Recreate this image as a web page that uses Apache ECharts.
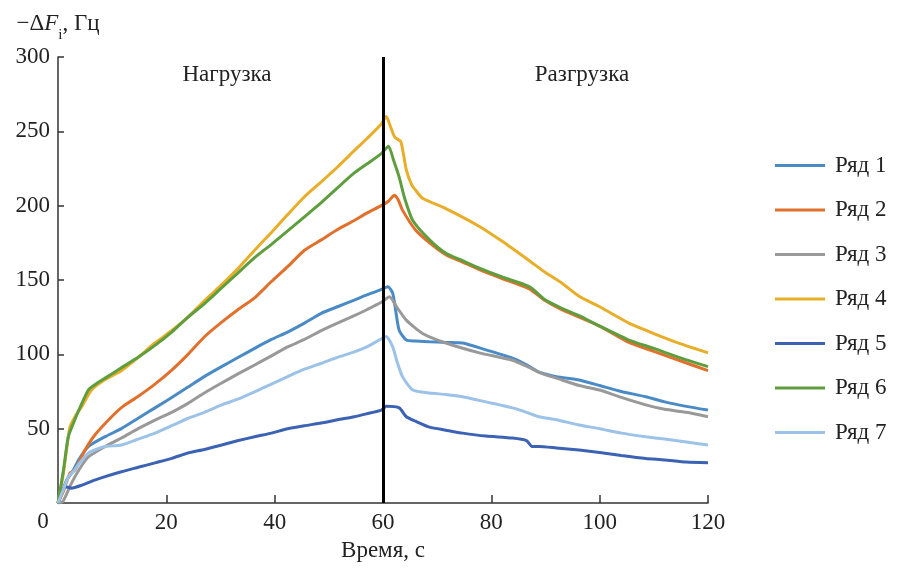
<!DOCTYPE html>
<html>
<head>
<meta charset="utf-8">
<script src="https://cdn.jsdelivr.net/npm/echarts@6/dist/echarts.min.js"></script>
<style>html,body{margin:0;padding:0;background:#fff}#c{width:897px;height:570px}</style>
</head>
<body>
<div id="c"></div>
<script>
const seriesNames = ['Ряд 1','Ряд 2','Ряд 3','Ряд 4','Ряд 5','Ряд 6','Ряд 7'];
const xTicks = [0,20,40,60,80,100,120];
const yTicks = [0,50,100,150,200,250,300];

const ryad1 = [[0,0],[0.8,8],[1.6,15.5],[2.5,20],[4,30],[5.6,38],[8.7,44.6],[11.7,50],[14.8,57],[17.9,64],[21,71],[24,78],[27,85],[30.2,91.7],[33.3,98],[36.3,104],[39.4,110],[42.4,115],[45.5,121],[48.6,127.6],[51.6,132],[54.7,136.5],[57,140],[59.3,143],[60.9,145.5],[61.8,141],[62.4,128],[63,116],[64.3,109.6],[66,109],[68.6,108.5],[71.6,108],[74.7,107.6],[79,103],[83.9,97.5],[86.5,93],[88.8,88],[92,85],[96.2,82.7],[100,79],[104,75],[108.5,71.5],[112,68],[116,65],[120,62.5]];
const ryad2 = [[0,0],[1,8],[2.2,20],[3.1,22],[5,35.6],[6.8,45.7],[9.9,58],[12,65],[14.7,71.5],[17.9,80],[21,89.4],[24,100],[27.1,112],[30,121],[33.2,130],[36.3,138],[39.4,149],[42.4,159],[45.5,170],[48.6,177],[51.6,184],[54.7,190],[57,195],[59.7,200],[61,203],[62.1,207],[62.8,204],[63.6,197],[66,183.6],[68.6,175],[71.6,167],[74.7,162],[77.8,157],[82,151],[87,144],[90,136],[93,130],[96.2,125],[100,119],[105.4,108],[110,102],[114.6,96],[120,89]];
const ryad3 = [[0,0],[0.9,1],[2.5,13.4],[4,23],[5.6,31],[8.7,38],[11.7,43.7],[14.8,50],[17.9,55.8],[21,61],[24,67],[27,74],[30.2,80.7],[33.3,87],[36.3,92.8],[39.4,99],[42.4,105],[45.5,110],[48.6,116],[51.6,121],[54.7,126],[57,130],[59.7,135],[61.2,138.7],[62.5,132],[64.3,123],[67.3,114],[71.6,107.6],[77.8,101],[83.9,96],[86.5,92],[89.4,87],[92,84],[96.2,79],[100,76],[104,71],[108.5,66],[112,63],[116,61],[120,58]];
const ryad4 = [[0,0],[1,20],[2.2,51],[3.3,59],[4.4,65],[6.2,76],[8.7,83],[11.7,89],[14.8,98],[17.9,107.6],[21,116],[24,125],[27,136],[30,146],[33.3,158],[36.3,170],[39.4,182],[42.4,194],[45.5,206],[48.6,216],[51.6,226],[54.7,237],[57,245],[59.7,255],[60.6,260],[61.5,252],[62.2,246],[63.3,243],[64.3,224],[65.3,214],[66.1,210],[67.3,205],[71.6,198],[77.8,186],[82,176],[87,163],[90,155],[93,148],[96.2,139],[100,132],[105.4,121],[110,114],[115,107],[120,101]];
const ryad5 = [[0,0],[0.6,6],[1.3,11],[2.5,10],[4.4,12],[6.5,15],[8.7,17.7],[11.7,21],[14.8,24],[17.9,27],[21,30],[24,33.6],[27,36],[30.2,39],[33.3,42],[36.3,44.6],[39.4,47],[42.4,50],[45.5,52],[48.6,53.8],[51.6,56],[54.7,58],[57,60],[59.7,62.5],[60.6,65],[63,64],[64.3,58],[66,55],[68.6,51],[71.6,49],[74.7,47],[79,45],[83.9,43.7],[86.5,42],[87.5,38],[88.8,38],[92,37],[96.2,35.6],[100,34],[104,32],[108.5,30],[112,29],[116,27.5],[120,27]];
const ryad6 = [[0,0],[1,22],[1.9,44.6],[3.1,56],[4.4,67],[5.6,76],[7,80],[8.7,84],[11.7,91],[14.8,98],[17.9,106],[21,115],[24,125],[27,134],[30,144],[33.3,155],[36.3,165],[39.4,174],[42.4,183],[45.5,192.5],[48.6,202],[51.6,212],[54.7,222],[57,228],[59.7,235],[61,240],[62,230],[63,219],[64,205],[65.5,190],[68.6,177],[71.6,168],[74.7,163],[77.8,158],[82,152],[87,145.5],[90,136.5],[93,131],[96.2,126],[100,119],[105.4,109.6],[110,104],[114.6,98],[120,91.7]];
const ryad7 = [[0,0],[1,9],[1.9,17.7],[2.8,21],[4,27],[5.6,33.6],[7,36],[8.7,38],[11.7,39],[14.8,43],[17.9,47],[21,52],[24,57],[27,61],[30.2,66],[33.3,70],[36.3,74.8],[39.4,80],[42.4,85],[45.5,90],[48.6,94],[51.6,98],[54.7,101.7],[57,105],[59.3,109.6],[60.6,112],[61.8,105],[62.6,95],[63.6,85],[65.5,76],[68.6,74],[71.6,73],[74.7,71.5],[79,68],[83.9,64],[86.5,61],[88.8,58],[92,56],[96.2,52.5],[100,50],[104,47],[108.5,44.6],[112,43],[116,41],[120,39]];
const boundary = 60;

const allData = [ryad1, ryad2, ryad3, ryad4, ryad5, ryad6, ryad7];
const colors = ['#4a8bc6','#e0702c','#999999','#e8ae2a','#3b62b3','#5f9e3e','#9cc2e8'];
const FONT = 'Liberation Serif';
const FS = 23;

const series = allData.map((d, i) => ({
  name: seriesNames[i],
  type: 'line',
  data: d,
  symbol: 'none',
  smooth: 0.2,
  lineStyle: { width: 3, color: colors[i] },
  itemStyle: { color: colors[i] },
  z: 2
}));
series[0].markLine = {
  silent: true,
  symbol: ['none','none'],
  label: { show: false },
  lineStyle: { color: '#000', width: 3, type: 'solid' },
  data: [{ xAxis: boundary }],
  z: 5
};

const chart = echarts.init(document.getElementById('c'));
chart.setOption({
  animation: false,
  backgroundColor: '#fff',
  color: colors,
  grid: { left: 58, right: 189, top: 57, bottom: 67 },
  xAxis: {
    type: 'value', min: 0, max: 120, interval: 20,
    name: 'Время, с', nameLocation: 'middle', nameGap: 36,
    nameTextStyle: { fontFamily: FONT, fontSize: FS, color: '#222' },
    axisLine: { lineStyle: { color: '#333', width: 1.5 } },
    axisTick: { inside: true, length: 8, lineStyle: { color: '#333', width: 1.5 } },
    axisLabel: { margin: 8, fontFamily: FONT, fontSize: FS, color: '#222', showMinLabel: false,
      formatter: v => xTicks.includes(v) ? String(v) : '' },
    splitLine: { show: false }
  },
  yAxis: {
    type: 'value', min: 0, max: 300, interval: 50,
    name: '{a|−Δ}{f|F}{s|i}{a|, Гц}', nameLocation: 'end', nameGap: 22,
    nameTextStyle: {
      align: 'center',
      rich: {
        a: { fontFamily: FONT, fontSize: FS, color: '#222' },
        f: { fontFamily: FONT, fontSize: FS, fontStyle: 'italic', color: '#222' },
        s: { fontFamily: FONT, fontSize: 15, color: '#222', verticalAlign: 'bottom', padding: [0,0,-8,0] }
      }
    },
    axisLine: { show: true, lineStyle: { color: '#333', width: 1.5 } },
    axisTick: { show: true, inside: true, length: 6, lineStyle: { color: '#333', width: 1.5 } },
    axisLabel: { margin: 8, fontFamily: FONT, fontSize: FS, color: '#222', showMinLabel: false,
      formatter: v => yTicks.includes(v) ? String(v) : '' },
    splitLine: { show: false }
  },
  legend: {
    orient: 'vertical', left: 775, top: 154, padding: 0,
    icon: 'rect', itemWidth: 50, itemHeight: 3, itemGap: 21.5,
    data: seriesNames,
    textStyle: { fontFamily: FONT, fontSize: FS, color: '#222', padding: [0,0,0,5] }
  },
  graphic: [
    { type: 'text', x: 43, y: 522, style: { text: String(xTicks[0]), font: FS + 'px "Liberation Serif"', fill: '#222', align: 'center', verticalAlign: 'middle' } },
    { type: 'text', x: 227, y: 75, style: { text: 'Нагрузка', font: FS + 'px "Liberation Serif"', fill: '#222', align: 'center', verticalAlign: 'middle' } },
    { type: 'text', x: 582, y: 75, style: { text: 'Разгрузка', font: FS + 'px "Liberation Serif"', fill: '#222', align: 'center', verticalAlign: 'middle' } }
  ],
  series: series
});
</script>
</body>
</html>
